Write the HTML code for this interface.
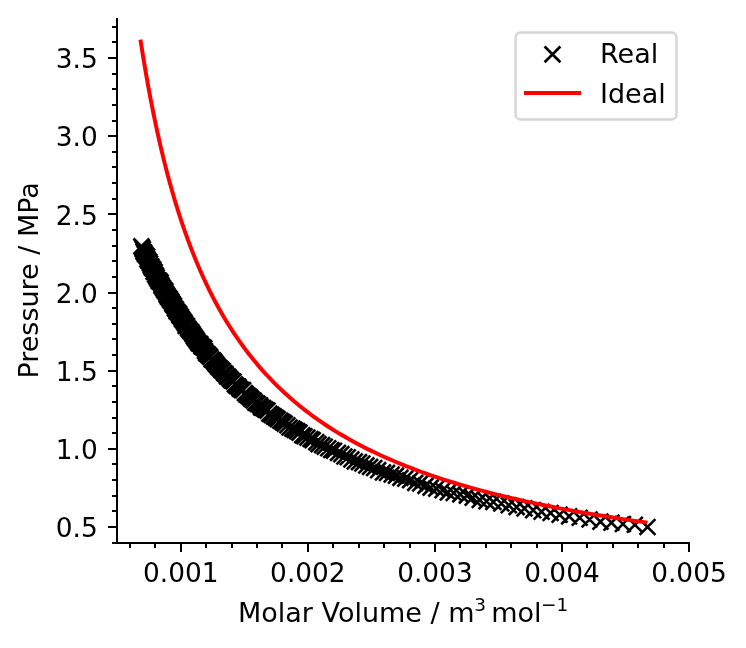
<!DOCTYPE html><html><head><meta charset="utf-8"><style>html,body{margin:0;padding:0;background:#fff;}svg{display:block;will-change:transform}text{font-family:"DejaVu Sans","Liberation Sans",sans-serif;fill:#000}</style></head><body>
<svg width="746" height="648" viewBox="0 0 746 648">
<rect width="746" height="648" fill="#fff"/>
<path d="M133.50 238.50L149.30 254.30M133.50 254.30L149.30 238.50M134.34 239.98L150.14 255.78M134.34 255.78L150.14 239.98M134.97 241.60L150.77 257.40M134.97 257.40L150.77 241.60M135.59 243.66L151.39 259.46M135.59 259.46L151.39 243.66M136.47 244.98L152.27 260.78M136.47 260.78L152.27 244.98M137.11 246.38L152.91 262.18M137.11 262.18L152.91 246.38M138.16 247.50L153.96 263.30M138.16 263.30L153.96 247.50M139.25 248.67L155.05 264.47M139.25 264.47L155.05 248.67M139.58 251.26L155.38 267.06M139.58 267.06L155.38 251.26M140.33 252.81L156.13 268.61M140.33 268.61L156.13 252.81M141.40 253.86L157.20 269.66M141.40 269.66L157.20 253.86M142.15 255.71L157.95 271.51M142.15 271.51L157.95 255.71M142.89 257.36L158.69 273.16M142.89 273.16L158.69 257.36M143.42 258.92L159.22 274.72M143.42 274.72L159.22 258.92M144.45 260.50L160.25 276.30M144.45 276.30L160.25 260.50M145.44 261.43L161.24 277.23M145.44 277.23L161.24 261.43M145.73 263.85L161.53 279.65M145.73 279.65L161.53 263.85M146.77 264.15L162.57 279.95M146.77 279.95L162.57 264.15M147.22 266.64L163.02 282.44M147.22 282.44L163.02 266.64M148.20 268.02L164.00 283.82M148.20 283.82L164.00 268.02M148.88 269.73L164.68 285.53M148.88 285.53L164.68 269.73M150.12 271.73L165.92 287.53M150.12 287.53L165.92 271.73M150.69 273.09L166.49 288.89M150.69 288.89L166.49 273.09M151.92 273.45L167.72 289.25M151.92 289.25L167.72 273.45M152.73 274.75L168.53 290.55M152.73 290.55L168.53 274.75M153.50 277.42L169.30 293.22M153.50 293.22L169.30 277.42M153.77 278.13L169.57 293.93M153.77 293.93L169.57 278.13M155.13 280.13L170.93 295.93M155.13 295.93L170.93 280.13M156.12 282.05L171.92 297.85M156.12 297.85L171.92 282.05M157.03 282.48L172.83 298.28M157.03 298.28L172.83 282.48M157.50 283.81L173.30 299.61M157.50 299.61L173.30 283.81M158.65 286.42L174.45 302.22M158.65 302.22L174.45 286.42M159.41 287.86L175.21 303.66M159.41 303.66L175.21 287.86M160.35 289.27L176.15 305.07M160.35 305.07L176.15 289.27M161.73 290.94L177.53 306.74M161.73 306.74L177.53 290.94M162.17 292.08L177.97 307.88M162.17 307.88L177.97 292.08M163.28 293.33L179.08 309.13M163.28 309.13L179.08 293.33M164.44 295.48L180.24 311.28M164.44 311.28L180.24 295.48M165.00 296.66L180.80 312.46M165.00 312.46L180.80 296.66M166.06 297.89L181.86 313.69M166.06 313.69L181.86 297.89M167.06 300.40L182.86 316.20M167.06 316.20L182.86 300.40M168.01 301.69L183.81 317.49M168.01 317.49L183.81 301.69M168.65 303.44L184.45 319.24M168.65 319.24L184.45 303.44M169.94 304.36L185.74 320.16M169.94 320.16L185.74 304.36M171.24 306.05L187.04 321.85M171.24 321.85L187.04 306.05M171.51 307.44L187.31 323.24M171.51 323.24L187.31 307.44M173.10 309.03L188.90 324.83M173.10 324.83L188.90 309.03M173.92 311.06L189.72 326.86M173.92 326.86L189.72 311.06M174.75 312.16L190.55 327.96M174.75 327.96L190.55 312.16M176.43 314.21L192.23 330.01M176.43 330.01L192.23 314.21M177.15 315.75L192.95 331.55M177.15 331.55L192.95 315.75M177.71 318.05L193.51 333.85M177.71 333.85L193.51 318.05M179.08 318.05L194.88 333.85M179.08 333.85L194.88 318.05M180.26 320.62L196.06 336.42M180.26 336.42L196.06 320.62M181.14 321.72L196.94 337.52M181.14 337.52L196.94 321.72M182.44 323.30L198.24 339.10M182.44 339.10L198.24 323.30M183.35 324.19L199.15 339.99M183.35 339.99L199.15 324.19M184.63 326.18L200.43 341.98M184.63 341.98L200.43 326.18M185.94 328.26L201.74 344.06M185.94 344.06L201.74 328.26M186.54 329.43L202.34 345.23M186.54 345.23L202.34 329.43M187.89 331.05L203.69 346.85M187.89 346.85L203.69 331.05M188.87 332.42L204.67 348.22M188.87 348.22L204.67 332.42M190.18 334.62L205.98 350.42M190.18 350.42L205.98 334.62M191.02 335.63L206.82 351.43M191.02 351.43L206.82 335.63M192.36 336.19L208.16 351.99M192.36 351.99L208.16 336.19M193.65 338.41L209.45 354.21M193.65 354.21L209.45 338.41M195.14 339.38L210.94 355.18M195.14 355.18L210.94 339.38M196.42 340.34L212.22 356.14M196.42 356.14L212.22 340.34M197.04 343.11L212.84 358.91M197.04 358.91L212.84 343.11M198.42 345.49L214.22 361.29M198.42 361.29L214.22 345.49M200.04 346.45L215.84 362.25M200.04 362.25L215.84 346.45M200.66 347.45L216.46 363.25M200.66 363.25L216.46 347.45M202.33 349.09L218.13 364.89M202.33 364.89L218.13 349.09M203.73 351.57L219.53 367.37M203.73 367.37L219.53 351.57M205.39 352.67L221.19 368.47M205.39 368.47L221.19 352.67M206.58 354.16L222.38 369.96M206.58 369.96L222.38 354.16M207.68 355.66L223.48 371.46M207.68 371.46L223.48 355.66M209.03 357.24L224.83 373.04M209.03 373.04L224.83 357.24M210.45 359.13L226.25 374.93M210.45 374.93L226.25 359.13M212.29 360.56L228.09 376.36M212.29 376.36L228.09 360.56M213.22 361.95L229.02 377.75M213.22 377.75L229.02 361.95M214.68 362.92L230.48 378.72M214.68 378.72L230.48 362.92M216.30 365.16L232.10 380.96M216.30 380.96L232.10 365.16M217.65 366.17L233.45 381.97M217.65 381.97L233.45 366.17M219.12 368.51L234.92 384.31M219.12 384.31L234.92 368.51M220.40 368.99L236.20 384.79M220.40 384.79L236.20 368.99M222.20 371.04L238.00 386.84M222.20 386.84L238.00 371.04M223.63 372.64L239.43 388.44M223.63 388.44L239.43 372.64M225.60 373.59L241.40 389.39M225.60 389.39L241.40 373.59M227.06 376.50L242.86 392.30M227.06 392.30L242.86 376.50M228.50 377.93L244.30 393.73M228.50 393.73L244.30 377.93M230.30 378.60L246.10 394.40M230.30 394.40L246.10 378.60M231.69 380.70L247.49 396.50M231.69 396.50L247.49 380.70M233.71 382.06L249.51 397.86M233.71 397.86L249.51 382.06M235.14 382.26L250.94 398.06M235.14 398.06L250.94 382.26M237.01 385.09L252.81 400.89M237.01 400.89L252.81 385.09M238.28 386.49L254.08 402.29M238.28 402.29L254.08 386.49M240.45 388.10L256.25 403.90M240.45 403.90L256.25 388.10M241.74 389.12L257.54 404.92M241.74 404.92L257.54 389.12M243.47 391.02L259.27 406.82M243.47 406.82L259.27 391.02M245.74 392.61L261.54 408.41M245.74 408.41L261.54 392.61M247.46 394.76L263.26 410.56M247.46 410.56L263.26 394.76M249.62 395.92L265.42 411.72M249.62 411.72L265.42 395.92M252.07 397.31L267.87 413.11M252.07 413.11L267.87 397.31M253.25 399.54L269.05 415.34M253.25 415.34L269.05 399.54M255.28 400.15L271.08 415.95M255.28 415.95L271.08 400.15M257.50 401.76L273.30 417.56M257.50 417.56L273.30 401.76M259.62 402.66L275.42 418.46M259.62 418.46L275.42 402.66M261.52 405.73L277.32 421.53M261.52 421.53L277.32 405.73M263.62 407.00L279.42 422.80M263.62 422.80L279.42 407.00M265.99 408.52L281.79 424.32M265.99 424.32L281.79 408.52M268.12 409.95L283.92 425.75M268.12 425.75L283.92 409.95M269.94 411.24L285.74 427.04M269.94 427.04L285.74 411.24M272.42 412.83L288.22 428.63M272.42 428.63L288.22 412.83M274.73 414.16L290.53 429.96M274.73 429.96L290.53 414.16M276.77 415.72L292.57 431.52M276.77 431.52L292.57 415.72M279.46 417.38L295.26 433.18M279.46 433.18L295.26 417.38M281.57 419.58L297.37 435.38M281.57 435.38L297.37 419.58M284.47 420.69L300.27 436.49M284.47 436.49L300.27 420.69M286.75 421.96L302.55 437.76M286.75 437.76L302.55 421.96M289.25 423.26L305.05 439.06M289.25 439.06L305.05 423.26M291.64 424.78L307.44 440.58M291.64 440.58L307.44 424.78M294.37 427.33L310.17 443.13M294.37 443.13L310.17 427.33M296.56 428.38L312.36 444.18M296.56 444.18L312.36 428.38M299.48 429.72L315.28 445.52M299.48 445.52L315.28 429.72M302.61 431.08L318.41 446.88M302.61 446.88L318.41 431.08M304.79 432.28L320.59 448.08M304.79 448.08L320.59 432.28M308.39 434.29L324.19 450.09M308.39 450.09L324.19 434.29M310.65 436.25L326.45 452.05M310.65 452.05L326.45 436.25M314.24 437.22L330.04 453.02M314.24 453.02L330.04 437.22M316.86 438.84L332.66 454.64M316.86 454.64L332.66 438.84M320.35 440.39L336.15 456.19M320.35 456.19L336.15 440.39M323.33 442.08L339.13 457.88M323.33 457.88L339.13 442.08M326.11 442.85L341.91 458.65M326.11 458.65L341.91 442.85M330.08 445.00L345.88 460.80M330.08 460.80L345.88 445.00M333.46 446.27L349.26 462.07M333.46 462.07L349.26 446.27M336.48 448.59L352.28 464.39M336.48 464.39L352.28 448.59M339.90 449.39L355.70 465.19M339.90 465.19L355.70 449.39M343.47 451.54L359.27 467.34M343.47 467.34L359.27 451.54M346.89 453.51L362.69 469.31M346.89 469.31L362.69 453.51M351.10 454.22L366.90 470.02M351.10 470.02L366.90 454.22M354.47 455.63L370.27 471.43M354.47 471.43L370.27 455.63M358.45 457.53L374.25 473.33M358.45 473.33L374.25 457.53M362.21 458.99L378.01 474.79M362.21 474.79L378.01 458.99M366.29 460.08L382.09 475.88M366.29 475.88L382.09 460.08M370.25 462.28L386.05 478.08M370.25 478.08L386.05 462.28M375.10 464.52L390.90 480.32M375.10 480.32L390.90 464.52M379.07 465.04L394.87 480.84M379.07 480.84L394.87 465.04M383.77 466.60L399.57 482.40M383.77 482.40L399.57 466.60M388.06 467.77L403.86 483.57M388.06 483.57L403.86 467.77M392.51 469.92L408.31 485.72M392.51 485.72L408.31 469.92M397.36 470.76L413.16 486.56M397.36 486.56L413.16 470.76M402.16 472.37L417.96 488.17M402.16 488.17L417.96 472.37M407.30 474.98L423.10 490.78M407.30 490.78L423.10 474.98M412.32 475.54L428.12 491.34M412.32 491.34L428.12 475.54M417.59 477.98L433.39 493.78M417.59 493.78L433.39 477.98M422.71 479.72L438.51 495.52M422.71 495.52L438.51 479.72M428.38 480.69L444.18 496.49M428.38 496.49L444.18 480.69M434.68 482.36L450.48 498.16M434.68 498.16L450.48 482.36M439.93 484.54L455.73 500.34M439.93 500.34L455.73 484.54M445.84 485.11L461.64 500.91M445.84 500.91L461.64 485.11M452.35 486.47L468.15 502.27M452.35 502.27L468.15 486.47M458.96 487.67L474.76 503.47M458.96 503.47L474.76 487.67M464.78 489.84L480.58 505.64M464.78 505.64L480.58 489.84M471.81 492.03L487.61 507.83M471.81 507.83L487.61 492.03M478.63 493.34L494.43 509.14M478.63 509.14L494.43 493.34M485.49 494.03L501.29 509.83M485.49 509.83L501.29 494.03M493.47 495.61L509.27 511.41M493.47 511.41L509.27 495.61M500.87 497.31L516.67 513.11M500.87 513.11L516.67 497.31M508.73 499.21L524.53 515.01M508.73 515.01L524.53 499.21M516.61 500.52L532.41 516.32M516.61 516.32L532.41 500.52M525.27 502.26L541.07 518.06M525.27 518.06L541.07 502.26M533.66 503.83L549.46 519.63M533.66 519.63L549.46 503.83M542.69 505.11L558.49 520.91M542.69 520.91L558.49 505.11M551.70 506.77L567.50 522.57M551.70 522.57L567.50 506.77M561.26 508.42L577.06 524.22M561.26 524.22L577.06 508.42M571.82 509.83L587.62 525.63M571.82 525.63L587.62 509.83M581.66 511.64L597.46 527.44M581.66 527.44L597.46 511.64M592.55 513.79L608.35 529.59M592.55 529.59L608.35 513.79M603.56 514.76L619.36 530.56M603.56 530.56L619.36 514.76M615.00 516.06L630.80 531.86M615.00 531.86L630.80 516.06M626.98 516.82L642.78 532.62M626.98 532.62L642.78 516.82M639.60 519.12L655.40 534.92M639.60 534.92L655.40 519.12" stroke="#000" stroke-width="2.64" fill="none" stroke-linecap="butt"/>
<polyline points="140.45,39.67 142.17,50.65 142.94,55.45 143.71,60.17 144.49,64.82 145.26,69.41 146.04,73.92 146.82,78.38 147.60,82.77 148.39,87.11 149.17,91.39 149.97,95.61 150.76,99.78 151.56,103.91 152.36,107.98 153.16,112.01 153.97,115.99 154.78,119.92 155.60,123.81 156.42,127.67 157.24,131.48 158.08,135.25 158.91,138.98 159.75,142.68 160.59,146.34 161.45,149.96 162.30,153.55 163.16,157.11 164.03,160.64 164.90,164.13 165.78,167.59 166.67,171.02 167.56,174.43 168.46,177.80 169.36,181.15 170.27,184.46 171.19,187.76 172.11,191.02 173.05,194.26 173.99,197.47 174.93,200.66 175.89,203.83 176.85,206.97 177.82,210.09 178.80,213.19 179.79,216.26 180.79,219.31 181.79,222.34 182.81,225.35 183.83,228.34 184.86,231.31 185.91,234.26 186.96,237.19 188.02,240.10 189.09,242.99 190.17,245.87 191.26,248.72 192.37,251.56 193.48,254.38 194.61,257.18 195.74,259.97 196.89,262.74 198.05,265.49 199.22,268.23 200.41,270.95 201.60,273.65 202.81,276.34 204.03,279.02 205.27,281.68 206.52,284.32 207.78,286.96 209.06,289.57 210.35,292.17 211.65,294.76 212.97,297.34 214.31,299.90 215.66,302.45 217.03,304.98 218.41,307.51 219.81,310.02 221.23,312.52 222.66,315.00 224.11,317.47 225.58,319.93 227.07,322.38 228.57,324.82 230.10,327.25 231.64,329.66 233.21,332.07 234.79,334.46 236.40,336.84 238.03,339.21 239.68,341.57 241.35,343.92 243.04,346.26 244.76,348.59 246.50,350.91 248.27,353.21 250.06,355.51 251.87,357.80 253.72,360.08 255.58,362.35 257.48,364.61 259.40,366.86 261.36,369.11 263.34,371.34 265.35,373.56 267.39,375.78 269.47,377.98 271.57,380.18 273.71,382.37 275.89,384.55 278.09,386.72 280.34,388.89 282.62,391.04 284.94,393.19 287.29,395.33 289.69,397.46 292.12,399.58 294.60,401.70 297.12,403.81 299.69,405.91 302.30,408.00 304.96,410.09 307.66,412.17 310.41,414.24 313.22,416.30 316.08,418.36 318.99,420.41 321.95,422.45 324.97,424.49 328.05,426.52 331.19,428.54 334.40,430.56 337.66,432.57 341.00,434.57 344.40,436.57 347.87,438.56 351.41,440.54 355.03,442.52 358.73,444.49 362.50,446.46 366.36,448.42 370.31,450.37 374.34,452.32 378.47,454.26 382.69,456.20 387.01,458.13 391.43,460.05 395.95,461.97 400.59,463.89 405.34,465.79 410.20,467.70 415.19,469.60 420.31,471.49 425.56,473.38 430.95,475.26 436.48,477.14 442.16,479.01 448.00,480.88 454.00,482.74 460.17,484.60 466.51,486.45 473.04,488.30 479.77,490.15 486.69,491.99 493.83,493.82 501.18,495.65 508.77,497.48 516.61,499.30 524.70,501.12 533.05,502.94 541.69,504.75 550.63,506.55 559.88,508.36 569.46,510.15 579.39,511.95 589.69,513.74 600.37,515.53 611.47,517.31 623.01,519.09 635.01,520.87 647.50,522.64" stroke="#ff0000" stroke-width="3.96" fill="none" stroke-linejoin="round" stroke-linecap="butt"/>
<g fill="#000" shape-rendering="crispEdges">
<rect x="116" y="18" width="2" height="526"/>
<rect x="116" y="542" width="574" height="2"/>
<rect x="112" y="542" width="5" height="2"/>
<rect x="108" y="526" width="9" height="2"/>
<rect x="112" y="510" width="5" height="2"/>
<rect x="112" y="495" width="5" height="2"/>
<rect x="112" y="479" width="5" height="2"/>
<rect x="112" y="463" width="5" height="2"/>
<rect x="108" y="448" width="9" height="2"/>
<rect x="112" y="432" width="5" height="2"/>
<rect x="112" y="417" width="5" height="2"/>
<rect x="112" y="401" width="5" height="2"/>
<rect x="112" y="385" width="5" height="2"/>
<rect x="108" y="370" width="9" height="2"/>
<rect x="112" y="354" width="5" height="2"/>
<rect x="112" y="338" width="5" height="2"/>
<rect x="112" y="323" width="5" height="2"/>
<rect x="112" y="307" width="5" height="2"/>
<rect x="108" y="292" width="9" height="2"/>
<rect x="112" y="276" width="5" height="2"/>
<rect x="112" y="260" width="5" height="2"/>
<rect x="112" y="245" width="5" height="2"/>
<rect x="112" y="229" width="5" height="2"/>
<rect x="108" y="213" width="9" height="2"/>
<rect x="112" y="198" width="5" height="2"/>
<rect x="112" y="182" width="5" height="2"/>
<rect x="112" y="166" width="5" height="2"/>
<rect x="112" y="151" width="5" height="2"/>
<rect x="108" y="135" width="9" height="2"/>
<rect x="112" y="120" width="5" height="2"/>
<rect x="112" y="104" width="5" height="2"/>
<rect x="112" y="88" width="5" height="2"/>
<rect x="112" y="73" width="5" height="2"/>
<rect x="108" y="57" width="9" height="2"/>
<rect x="112" y="41" width="5" height="2"/>
<rect x="112" y="26" width="5" height="2"/>
<rect x="129" y="543" width="2" height="5"/>
<rect x="154" y="543" width="2" height="5"/>
<rect x="180" y="543" width="2" height="9"/>
<rect x="205" y="543" width="2" height="5"/>
<rect x="231" y="543" width="2" height="5"/>
<rect x="256" y="543" width="2" height="5"/>
<rect x="281" y="543" width="2" height="5"/>
<rect x="307" y="543" width="2" height="9"/>
<rect x="332" y="543" width="2" height="5"/>
<rect x="358" y="543" width="2" height="5"/>
<rect x="383" y="543" width="2" height="5"/>
<rect x="409" y="543" width="2" height="5"/>
<rect x="434" y="543" width="2" height="9"/>
<rect x="459" y="543" width="2" height="5"/>
<rect x="485" y="543" width="2" height="5"/>
<rect x="510" y="543" width="2" height="5"/>
<rect x="536" y="543" width="2" height="5"/>
<rect x="561" y="543" width="2" height="9"/>
<rect x="586" y="543" width="2" height="5"/>
<rect x="612" y="543" width="2" height="5"/>
<rect x="637" y="543" width="2" height="5"/>
<rect x="663" y="543" width="2" height="5"/>
<rect x="688" y="543" width="2" height="9"/>
</g>
<text x="97.7" y="537" font-size="26.4" text-anchor="end">0.5</text>
<text x="97.7" y="459" font-size="26.4" text-anchor="end">1.0</text>
<text x="97.7" y="381" font-size="26.4" text-anchor="end">1.5</text>
<text x="97.7" y="303" font-size="26.4" text-anchor="end">2.0</text>
<text x="97.7" y="225" font-size="26.4" text-anchor="end">2.5</text>
<text x="97.7" y="146" font-size="26.4" text-anchor="end">3.0</text>
<text x="97.7" y="68" font-size="26.4" text-anchor="end">3.5</text>
<text x="180.85" y="581.8" font-size="26.4" text-anchor="middle">0.001</text>
<text x="307.88" y="581.8" font-size="26.4" text-anchor="middle">0.002</text>
<text x="434.91" y="581.8" font-size="26.4" text-anchor="middle">0.003</text>
<text x="561.94" y="581.8" font-size="26.4" text-anchor="middle">0.004</text>
<text x="688.97" y="581.8" font-size="26.4" text-anchor="middle">0.005</text>
<text x="238" y="621.8" font-size="27">Molar Volume / m</text>
<text x="474.2" y="611.4" font-size="18.5">3</text>
<text x="491.3" y="621.8" font-size="27">mol</text>
<text x="541.1" y="611.4" font-size="18.5">−1</text>
<text transform="translate(37.8,378.6) rotate(-90)" font-size="27">Pressure / MPa</text>
<rect x="515.6" y="32.4" width="160.9" height="87" rx="5" ry="5" fill="#fff" fill-opacity="0.8" stroke="#d6d6d6" stroke-width="2.5"/>
<path d="M544.6 46.45L560.4 62.25M544.6 62.25L560.4 46.45" stroke="#000" stroke-width="2.64" fill="none"/>
<rect x="524" y="91" width="57" height="4" fill="#ff0000"/>
<text x="600" y="63.1" font-size="27">Real</text>
<text x="600" y="102.6" font-size="27">Ideal</text>
</svg></body></html>
